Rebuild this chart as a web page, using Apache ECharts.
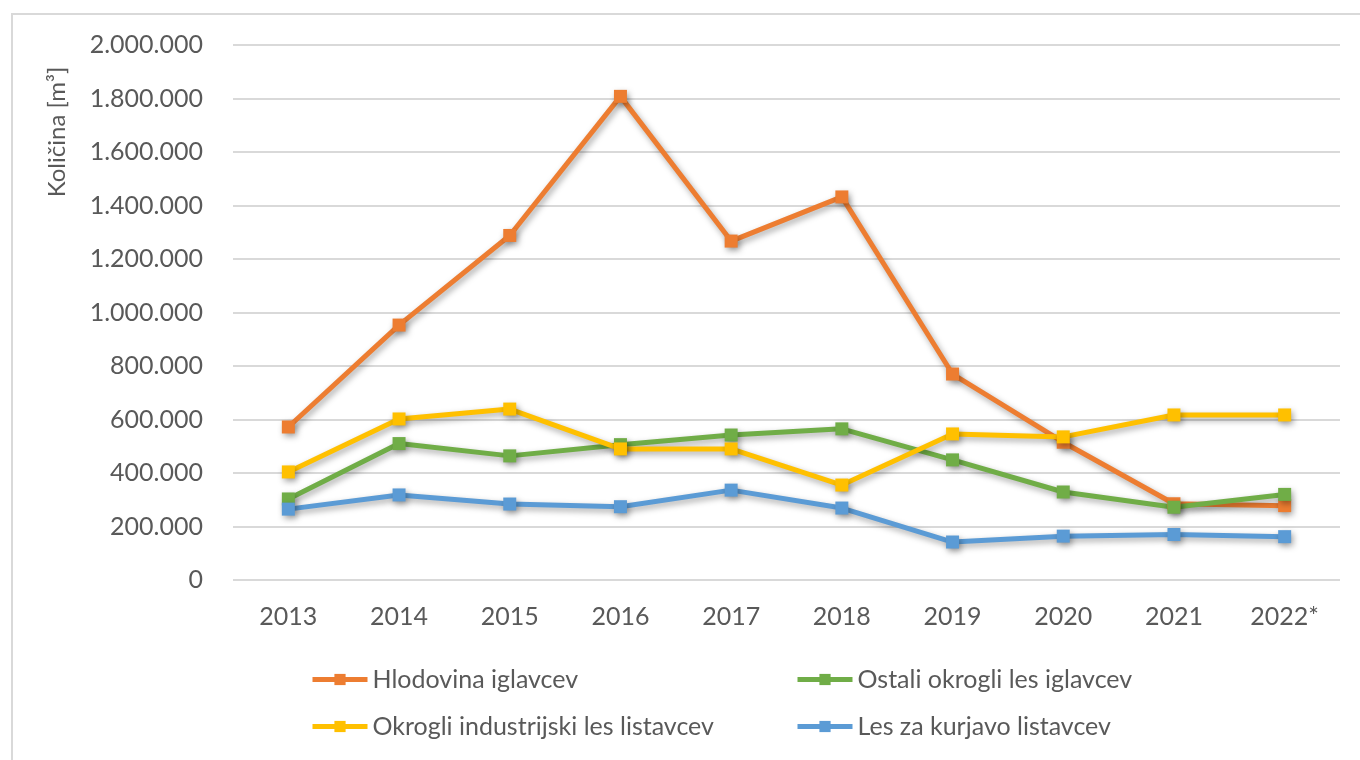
<!DOCTYPE html>
<html>
<head>
<meta charset="utf-8">
<script src="https://cdn.jsdelivr.net/npm/echarts@6/dist/echarts.min.js"></script>
<style>
  html, body { margin: 0; padding: 0; background: #fff; }
  #chart { width: 1360px; height: 760px; }
</style>
</head>
<body>
<div id="chart"></div>
<script>
const years = ['2013', '2014', '2015', '2016', '2017', '2018', '2019', '2020', '2021', '2022*'];
const hlodovinaIglavcev = [572000, 953000, 1288000, 1808000, 1267000, 1432000, 770000, 515000, 285000, 278000];
const ostaliIglavcev = [303000, 510000, 464000, 506000, 542000, 565000, 449000, 329000, 272000, 320000];
const industrijskiListavcev = [404000, 602000, 639000, 490000, 490000, 355000, 546000, 535000, 617000, 617000];
const kurjavaListavcev = [265000, 318000, 284000, 274000, 336000, 269000, 142000, 164000, 170000, 162000];

const seriesNames = ['Hlodovina iglavcev', 'Ostali okrogli les iglavcev', 'Okrogli industrijski les listavcev', 'Les za kurjavo listavcev'];
const seriesColors = ['#ED7D31', '#70AD47', '#FFC000', '#5B9BD5'];
const seriesData = [hlodovinaIglavcev, ostaliIglavcev, industrijskiListavcev, kurjavaListavcev];

const font = 'Lato';

function fmt(v) {
  return String(v).replace(/\B(?=(\d{3})+(?!\d))/g, '.');
}

const shadow = {
  shadowColor: 'rgba(0,0,0,0.35)',
  shadowBlur: 6,
  shadowOffsetX: 2,
  shadowOffsetY: 3
};

const legendBase = {
  orient: 'vertical',
  top: 662,
  itemWidth: 55,
  itemHeight: 14,
  itemGap: 22,
  lineStyle: { width: 5 },
  textStyle: { fontFamily: font, fontSize: 25, color: '#595959' }
};

const option = {
  backgroundColor: '#fff',
  animation: false,
  grid: { left: 233, right: 20, top: 45, bottom: 180 },
  legend: [
    Object.assign({}, legendBase, { left: 305, data: [seriesNames[0], seriesNames[2]] }),
    Object.assign({}, legendBase, { left: 790, data: [seriesNames[1], seriesNames[3]] })
  ],
  graphic: [
    {
      type: 'rect',
      shape: { x: 12, y: 14, width: 1400, height: 800 },
      style: { fill: 'none', stroke: '#d9d9d9', lineWidth: 2 },
      silent: true
    },
    {
      type: 'text',
      x: 57,
      y: 132,
      rotation: Math.PI / 2,
      style: {
        text: 'Količina [m³]',
        fontFamily: font,
        fontSize: 24,
        fill: '#595959',
        align: 'center',
        verticalAlign: 'middle'
      }
    }
  ],
  xAxis: {
    type: 'category',
    data: years,
    boundaryGap: true,
    axisLine: { show: false },
    axisTick: { show: false },
    axisLabel: { margin: 24, fontFamily: font, fontSize: 25, color: '#595959' }
  },
  yAxis: {
    type: 'value',
    min: 0,
    max: 2000000,
    interval: 200000,
    axisLine: { show: false },
    axisTick: { show: false },
    splitLine: { lineStyle: { color: '#d9d9d9', width: 2 } },
    axisLabel: { margin: 30, fontFamily: font, fontSize: 25, color: '#595959', formatter: fmt }
  },
  series: seriesNames.map((name, i) => ({
    name: name,
    type: 'line',
    data: seriesData[i],
    color: seriesColors[i],
    symbol: 'rect',
    symbolSize: 13,
    lineStyle: Object.assign({ width: 5, color: seriesColors[i] }, shadow),
    itemStyle: Object.assign({ color: seriesColors[i] }, shadow)
  }))
};

echarts.init(document.getElementById('chart')).setOption(option);
</script>
</body>
</html>
